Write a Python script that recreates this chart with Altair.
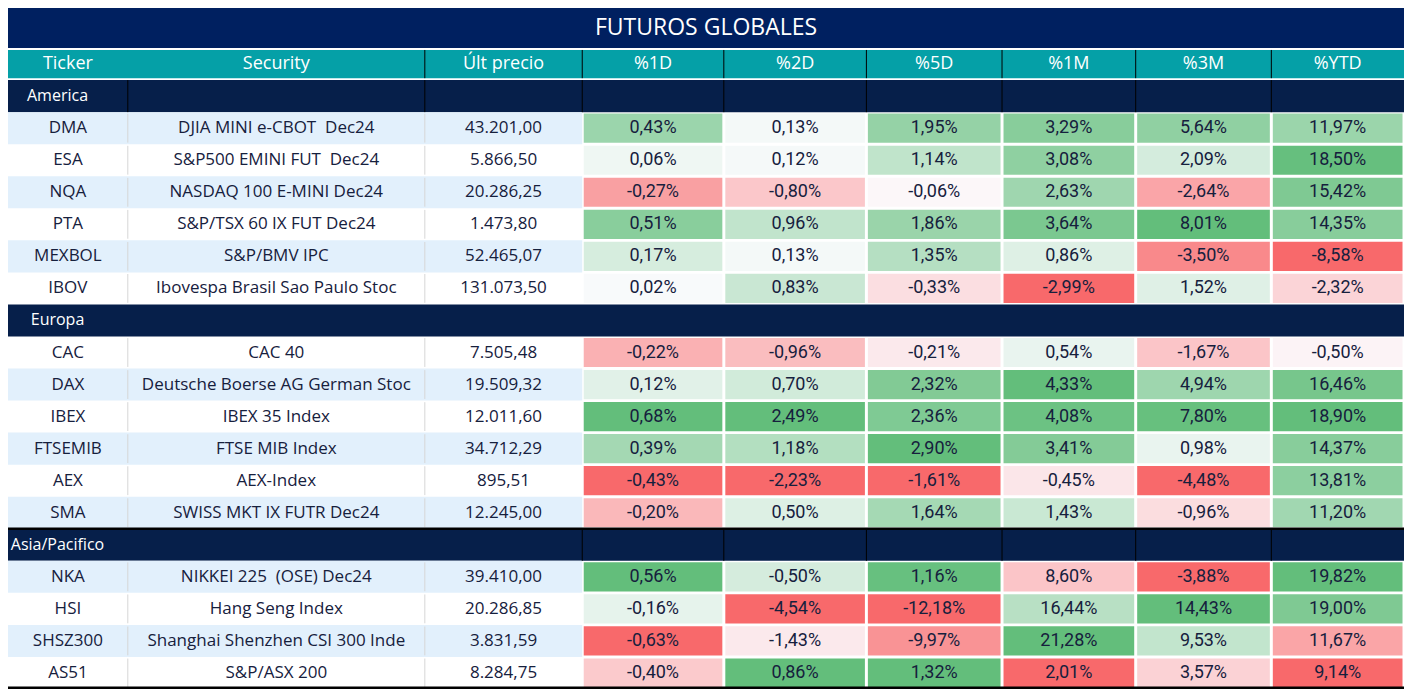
import altair as alt
import pandas as pd

# ---------------- data ----------------
title = "FUTUROS GLOBALES"
headers = ["Ticker", "Security", "Últ precio", "%1D", "%2D", "%5D", "%1M", "%3M", "%YTD"]
sections = ["America", "Europa", "Asia/Pacifico"]
section_sizes = [6, 6, 4]
tickers = ["DMA", "ESA", "NQA", "PTA", "MEXBOL", "IBOV",
           "CAC", "DAX", "IBEX", "FTSEMIB", "AEX", "SMA",
           "NKA", "HSI", "SHSZ300", "AS51"]
securities = ["DJIA MINI e-CBOT \u00a0Dec24", "S&P500 EMINI FUT \u00a0Dec24", "NASDAQ 100 E-MINI Dec24",
              "S&P/TSX 60 IX FUT Dec24", "S&P/BMV IPC", "Ibovespa Brasil Sao Paulo Stoc",
              "CAC 40", "Deutsche Boerse AG German Stoc", "IBEX 35 Index", "FTSE MIB Index",
              "AEX-Index", "SWISS MKT IX FUTR Dec24",
              "NIKKEI 225 \u00a0(OSE) Dec24", "Hang Seng Index", "Shanghai Shenzhen CSI 300 Inde",
              "S&P/ASX 200"]
prices = [43201.00, 5866.50, 20286.25, 1473.80, 52465.07, 131073.50,
          7505.48, 19509.32, 12011.60, 34712.29, 895.51, 12245.00,
          39410.00, 20286.85, 3831.59, 8284.75]
pct_1d = [0.43, 0.06, -0.27, 0.51, 0.17, 0.02, -0.22, 0.12, 0.68, 0.39, -0.43, -0.20, 0.56, -0.16, -0.63, -0.40]
pct_2d = [0.13, 0.12, -0.80, 0.96, 0.13, 0.83, -0.96, 0.70, 2.49, 1.18, -2.23, 0.50, -0.50, -4.54, -1.43, 0.86]
pct_5d = [1.95, 1.14, -0.06, 1.86, 1.35, -0.33, -0.21, 2.32, 2.36, 2.90, -1.61, 1.64, 1.16, -12.18, -9.97, 1.32]
pct_1m = [3.29, 3.08, 2.63, 3.64, 0.86, -2.99, 0.54, 4.33, 4.08, 3.41, -0.45, 1.43, 8.60, 16.44, 21.28, 2.01]
pct_3m = [5.64, 2.09, -2.64, 8.01, -3.50, 1.52, -1.67, 4.94, 7.80, 0.98, -4.48, -0.96, -3.88, 14.43, 9.53, 3.57]
pct_ytd = [11.97, 18.50, 15.42, 14.35, -8.58, -2.32, -0.50, 16.46, 18.90, 14.37, 13.81, 11.20, 19.82, 19.00, 11.67, 9.14]
pct_cols = [pct_1d, pct_2d, pct_5d, pct_1m, pct_3m, pct_ytd]

# ---------------- layout ----------------
FONT = "Open Sans"
PFONT = "Liberation Sans Narrow, Roboto"
TXT = "#16203d"
col_edges = [0, 121, 421, 580, 723, 867, 1004, 1139, 1276, 1410]
TITLE_H = 1.25
TOTAL_H = TITLE_H + 1 + sum(section_sizes) + len(sections)


def row_top(r):
    return 0 if r == 0 else TITLE_H + (r - 1)


def fmt_price(v):
    s = f"{v:,.2f}"
    return s.replace(",", "X").replace(".", ",").replace("X", ".")


def fmt_pct(v):
    return f"{v:.2f}".replace(".", ",") + "%"


def median(vals):
    s = sorted(vals)
    n = len(s)
    return s[n // 2] if n % 2 else (s[n // 2 - 1] + s[n // 2]) / 2


def normalize(vals, mid):
    lo, hi = min(vals), max(vals)
    out = []
    for v in vals:
        if v < mid:
            out.append(-(mid - v) / (mid - lo) if mid > lo else 0)
        else:
            out.append((v - mid) / (hi - mid) if hi > mid else 0)
    return out


# colour-scale groups (as in the source's conditional formatting)
n_ae = section_sizes[0] + section_sizes[1]
norm_cols = []
for vals in pct_cols:
    ae = normalize(vals[:n_ae], 0.0)
    asia_vals = vals[n_ae:]
    asia = normalize(asia_vals, median(asia_vals))
    norm_cols.append(ae + asia)

# row index of each data line and section line
data_rows, sec_rows = [], []
r = 2
for s, n in zip(sections, section_sizes):
    sec_rows.append(r)
    r += 1
    for _ in range(n):
        data_rows.append(r)
        r += 1

# ---------------- tables ----------------
bg, cells, txt_body, txt_pct, txt_head, txt_sec, txt_title = [], [], [], [], [], [], []
rules_black, rules_grey = [], []

bg.append(dict(x0=0, x1=1410, y0=0, y1=TITLE_H, kind="title"))
bg.append(dict(x0=0, x1=1410, y0=TITLE_H + 0.06, y1=TITLE_H + 0.94, kind="header"))
for sr in sec_rows:
    bg.append(dict(x0=0, x1=1410, y0=row_top(sr), y1=row_top(sr) + 1, kind="section"))
for dr in data_rows:
    if dr % 2 == 1:
        bg.append(dict(x0=0, x1=580, y0=row_top(dr), y1=row_top(dr) + 1, kind="stripe"))

txt_title.append(dict(x=705, y=TITLE_H / 2, label=title))
for j, h in enumerate(headers):
    txt_head.append(dict(x=(col_edges[j] + col_edges[j + 1]) / 2, y=TITLE_H + 0.5, label=h))
for s, sr in zip(sections, sec_rows):
    txt_sec.append(dict(x=50, y=row_top(sr) + 0.5, label=s))

for i, dr in enumerate(data_rows):
    yc = row_top(dr) + 0.5
    txt_body.append(dict(x=60.5, y=yc, label=tickers[i]))
    txt_body.append(dict(x=271, y=yc, label=securities[i]))
    txt_body.append(dict(x=500.5, y=yc, label=fmt_price(prices[i])))
    for k in range(6):
        x0, x1 = col_edges[3 + k], col_edges[4 + k]
        cells.append(dict(x0=x0 + 1.5, x1=x1 - 1.5, y0=row_top(dr) + 0.045, y1=row_top(dr) + 0.955,
                          t=norm_cols[k][i]))
        txt_pct.append(dict(x=(x0 + x1) / 2, y=yc, label=fmt_pct(pct_cols[k][i])))
    for xe in (121, 421):
        rules_grey.append(dict(x0=xe, x1=xe, y0=row_top(dr) + 0.05, y1=row_top(dr) + 0.95))

# black separators in header and section rows
for xe in col_edges[2:-1]:
    rules_black.append(dict(x0=xe, x1=xe, y0=TITLE_H + 0.06, y1=TITLE_H + 0.94, w=1))
for xe in col_edges[1:-1]:
    rules_black.append(dict(x0=xe, x1=xe, y0=row_top(sec_rows[0]), y1=row_top(sec_rows[0]) + 1, w=1))
for xe in col_edges[3:-1]:
    rules_black.append(dict(x0=xe, x1=xe, y0=row_top(sec_rows[2]), y1=row_top(sec_rows[2]) + 1, w=1))
rules_black.append(dict(x0=0, x1=1410, y0=row_top(sec_rows[2]), y1=row_top(sec_rows[2]), w=2.5))
rules_black.append(dict(x0=0, x1=1410, y0=TOTAL_H - 0.04, y1=TOTAL_H - 0.04, w=2.5))

# ---------------- chart ----------------
xs = alt.Scale(domain=[0, 1410], nice=False, zero=False)
ys = alt.Scale(domain=[0, TOTAL_H], nice=False, zero=False, reverse=True)


def rect_enc():
    return dict(x=alt.X("x0:Q", scale=xs, axis=None), x2="x1:Q",
                y=alt.Y("y0:Q", scale=ys, axis=None), y2="y1:Q")


def text_enc():
    return dict(x=alt.X("x:Q", scale=xs, axis=None), y=alt.Y("y:Q", scale=ys, axis=None),
                text="label:N")


bg_layer = alt.Chart(pd.DataFrame(bg)).mark_rect(strokeWidth=0).encode(
    color=alt.Color("kind:N", legend=None,
                    scale=alt.Scale(domain=["title", "header", "section", "stripe"],
                                    range=["#002060", "#05A0A7", "#061F4A", "#E2F0FC"])),
    **rect_enc())

cell_layer = alt.Chart(pd.DataFrame(cells)).mark_rect(strokeWidth=0).encode(
    color=alt.Color("t:Q", legend=None,
                    scale=alt.Scale(domain=[-1, 0, 1], range=["#F8696B", "#FCFCFF", "#63BE7B"],
                                    interpolate="rgb")),
    **rect_enc())

grey_layer = alt.Chart(pd.DataFrame(rules_grey)).mark_rule(color="#D6D6D6", strokeWidth=1).encode(**rect_enc())
black_layer = alt.Chart(pd.DataFrame(rules_black)).mark_rule(color="#000000").encode(
    strokeWidth=alt.StrokeWidth("w:Q", scale=None), **rect_enc())

title_layer = alt.Chart(pd.DataFrame(txt_title)).mark_text(
    font=FONT, fontSize=23, color="white", align="center", baseline="middle").encode(**text_enc())
head_layer = alt.Chart(pd.DataFrame(txt_head)).mark_text(
    font=FONT, fontSize=18, color="white", align="center", baseline="middle").encode(**text_enc())
sec_layer = alt.Chart(pd.DataFrame(txt_sec)).mark_text(
    font=FONT, fontSize=16, color="white", align="center", baseline="middle").encode(**text_enc())
body_layer = alt.Chart(pd.DataFrame(txt_body)).mark_text(
    font=FONT, fontSize=17, color=TXT, align="center", baseline="middle").encode(**text_enc())
pct_layer = alt.Chart(pd.DataFrame(txt_pct)).mark_text(
    font=PFONT, fontSize=18, color=TXT, align="center", baseline="middle").encode(**text_enc())

chart = alt.layer(bg_layer, cell_layer, grey_layer, black_layer,
                  title_layer, head_layer, sec_layer, body_layer, pct_layer).resolve_scale(
    color="independent").properties(
    width=1396, height=681, padding=0, autosize=alt.AutoSizeParams(type="none"),
    background="white").configure_view(stroke=None)

chart.save("out.html", embed_options={"renderer": "svg", "actions": False})
